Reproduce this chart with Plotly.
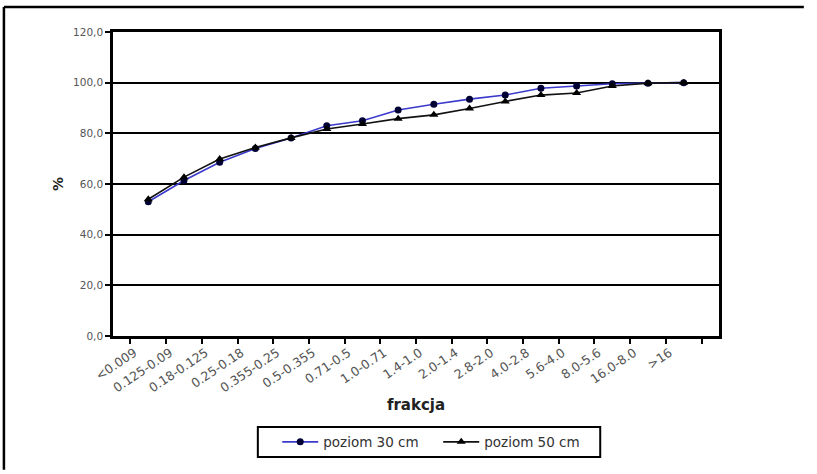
import plotly.graph_objects as go

categories = ["<0.009", "0.125-0.09", "0.18-0.125", "0.25-0.18", "0.355-0.25",
              "0.5-0.355", "0.71-0.5", "1.0-0.71", "1.4-1.0", "2.0-1.4",
              "2.8-2.0", "4.0-2.8", "5.6-4.0", "8.0-5.6", "16.0-8.0", ">16"]
poziom_30 = [53.0, 61.4, 68.6, 74.0, 78.2, 83.0, 85.0, 89.2, 91.5, 93.5,
             95.1, 97.8, 98.7, 99.6, 99.8, 100.0]
poziom_50 = [54.0, 62.7, 69.9, 74.4, 78.2, 81.7, 83.7, 85.8, 87.3, 89.8,
             92.6, 95.1, 95.9, 98.7, 99.8, 100.0]
y_ticks = [0, 20, 40, 60, 80, 100, 120]

FONT = "DejaVu Sans, Liberation Sans, Arial, sans-serif"

fig = go.Figure()
fig.add_trace(go.Scatter(
    x=categories, y=poziom_30, name="poziom 30 cm", mode="lines+markers",
    line=dict(color="#3a3acc", width=1.6),
    marker=dict(symbol="circle", size=7, color="#000033"),
))
fig.add_trace(go.Scatter(
    x=categories, y=poziom_50, name="poziom 50 cm", mode="lines+markers",
    line=dict(color="#111111", width=1.6),
    marker=dict(symbol="triangle-up", size=8, color="#000000"),
))

fig.update_layout(
    width=817, height=474,
    margin=dict(l=113, r=98, t=32, b=138),
    paper_bgcolor="white", plot_bgcolor="white",
    separators=", ",
    font=dict(family=FONT, color="#333333"),
    showlegend=True,
    legend=dict(
        orientation="h", x=0.271, y=-0.349, xanchor="left", yanchor="middle",
        borderwidth=0, bgcolor="rgba(0,0,0,0)",
        font=dict(size=13.5, color="#333333", family=FONT),
        entrywidth=110, entrywidthmode="pixels",
        itemwidth=36, tracegroupgap=0,
    ),
    shapes=[
        dict(type="line", xref="paper", yref="paper",
             x0=-0.18, x1=1.14, y0=1.082, y1=1.082,
             line=dict(color="black", width=2.5), layer="below"),
        dict(type="line", xref="paper", yref="paper",
             x0=-0.18, x1=-0.18, y0=1.082, y1=-0.44,
             line=dict(color="black", width=2.5), layer="below"),
        dict(type="rect", xref="paper", yref="paper",
             x0=0.239, x1=0.804, y0=-0.398, y1=-0.299,
             line=dict(color="black", width=2), layer="below"),
    ],
)

fig.update_xaxes(
    type="category", tickangle=-34, tickson="boundaries",
    ticks="outside", ticklen=5, tickwidth=1.5, tickcolor="black",
    ticklabelshift=-14, ticklabelstandoff=2,
    showline=True, linecolor="black", linewidth=2.5, mirror=True,
    showgrid=False,
    tickfont=dict(size=12.5, color="#555555", family=FONT),
    title=dict(text="<b>frakcja</b>", font=dict(size=15, color="#222222", family=FONT), standoff=6),
)
fig.update_yaxes(
    range=[0, 120], tickvals=y_ticks, tickformat=".1f",
    ticks="outside", ticklen=5, tickwidth=1.5, tickcolor="black",
    showline=True, linecolor="black", linewidth=2.5, mirror=True,
    showgrid=True, gridcolor="black", gridwidth=1.8,
    zeroline=False,
    tickfont=dict(size=10.5, color="#555555", family=FONT),
    title=dict(text="<b>%</b>", font=dict(size=14, color="#222222", family=FONT), standoff=7),
)

fig.write_html("out.html")
